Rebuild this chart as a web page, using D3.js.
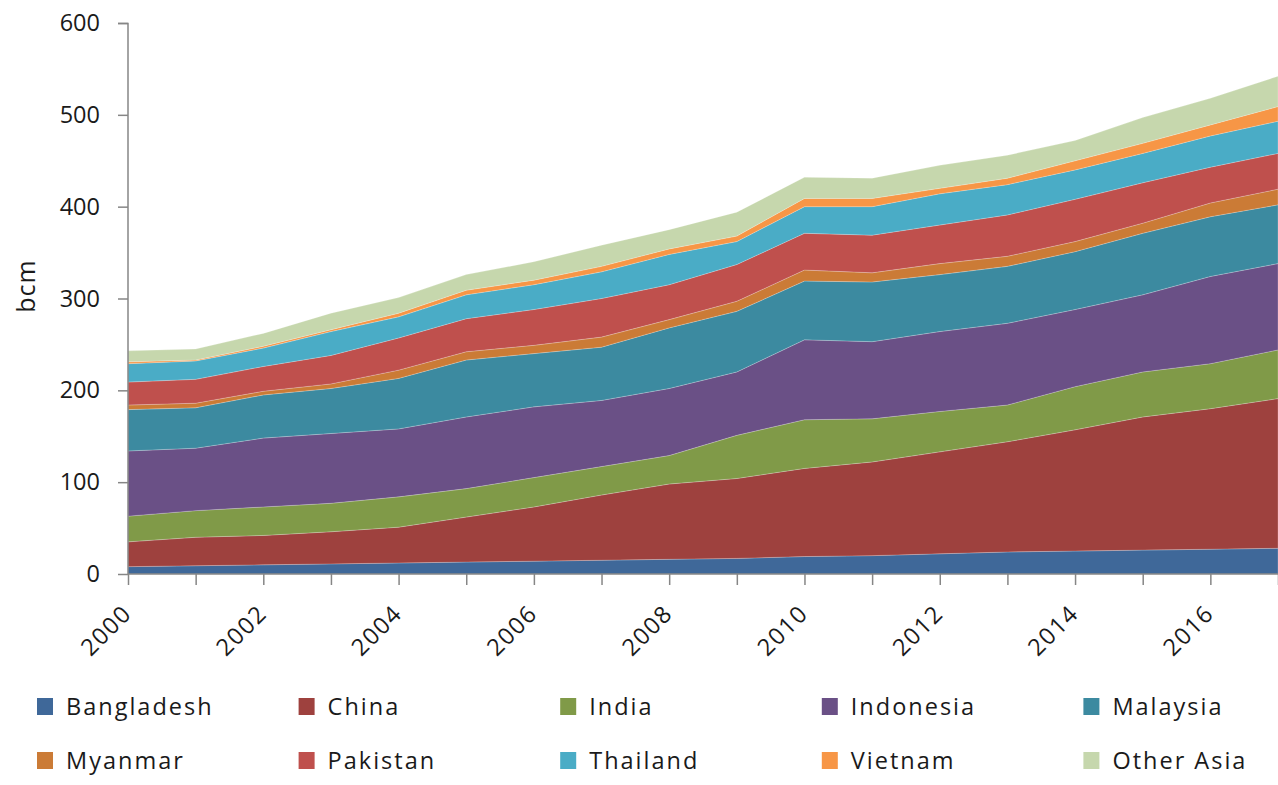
<!DOCTYPE html>
<html>
<head>
<meta charset="utf-8">
<script src="https://cdn.jsdelivr.net/npm/d3@7"></script>
<style>
  body { margin: 0; background: #fff; }
  text { font-family: "Open Sans", sans-serif; fill: #1a1a1a; }
</style>
</head>
<body>
<div id="chart"></div>
<script>
// values, bcm
var years = [2000, 2001, 2002, 2003, 2004, 2005, 2006, 2007, 2008, 2009, 2010, 2011, 2012, 2013, 2014, 2015, 2016, 2017];
var countries = ["Bangladesh", "China", "India", "Indonesia", "Malaysia", "Myanmar", "Pakistan", "Thailand", "Vietnam", "Other Asia"];
var colors = ["#3f6899", "#9e413e", "#809a48", "#6a5086", "#3c8aa0", "#cb7b36", "#bf504d", "#4aacc6", "#f79646", "#c6d7ad"];

var bangladesh = [8, 9, 10, 11, 12, 13, 14, 15, 16, 17, 19, 20, 22, 24, 25, 26, 27, 28];
var china      = [27, 31, 32, 35, 39, 49, 59, 71, 82, 87, 96, 102, 111, 120, 132, 145, 153, 163];
var india      = [28, 29, 31, 31, 33, 31, 32, 31, 31, 47, 53, 47, 44, 40, 47, 49, 49, 53];
var indonesia  = [71, 68, 75, 76, 74, 78, 77, 72, 73, 69, 87, 84, 87, 89, 84, 84, 95, 94];
var malaysia   = [45, 44, 47, 49, 55, 62, 58, 58, 66, 66, 64, 65, 62, 62, 63, 67, 65, 64];
var myanmar    = [5, 5, 4, 5, 9, 9, 9, 11, 9, 11, 12, 10, 12, 11, 11, 11, 15, 17];
var pakistan   = [25, 26, 27, 31, 35, 36, 39, 42, 38, 40, 40, 41, 42, 45, 46, 44, 39, 39];
var thailand   = [20, 20, 20, 26, 23, 26, 27, 29, 33, 25, 29, 31, 34, 33, 32, 32, 34, 35];
var vietnam    = [2, 1, 2, 2, 4, 5, 5, 6, 6, 6, 9, 9, 6, 7, 10, 11, 12, 16];
var otherAsia  = [12, 12, 14, 18, 17, 17, 20, 23, 21, 26, 23, 22, 25, 25, 22, 28, 29, 33];

var yTicks = [0, 100, 200, 300, 400, 500, 600];
var xTickYears = [2000, 2002, 2004, 2006, 2008, 2010, 2012, 2014, 2016];

var series = [bangladesh, china, india, indonesia, malaysia, myanmar, pakistan, thailand, vietnam, otherAsia];

// one row per year for d3.stack
var rows = years.map(function(y, i) {
    var r = {year: y};
    countries.forEach(function(c, j) { r[c] = series[j][i]; });
    return r;
});

var W = 1278, H = 785;
var margin = {top: 23, right: 0, bottom: 211, left: 128};
var width = W - margin.left - margin.right;
var height = H - margin.top - margin.bottom;

var svg = d3.select('#chart').append('svg')
    .attr('width', W)
    .attr('height', H);

var g = svg.append('g')
    .attr('transform', `translate(${margin.left},${margin.top})`);

var x = d3.scaleLinear().domain([2000, 2017]).range([0, width]);
var y = d3.scaleLinear().domain([0, 600]).range([height, 0]);

var stacked = d3.stack().keys(countries)(rows);

var area = d3.area()
    .x(d => x(d.data.year))
    .y0(d => y(d[0]))
    .y1(d => y(d[1]));

g.selectAll('.layer')
    .data(stacked)
    .enter()
    .append('path')
    .attr('class', 'layer')
    .attr('d', area)
    .attr('fill', (d, i) => colors[i])
    .attr('stroke', 'rgba(255,255,255,0.35)')
    .attr('stroke-width', 0.6);

// y axis
var yAxis = d3.axisLeft(y).tickValues(yTicks).tickSize(10).tickPadding(18);
var ya = g.append('g').attr('class', 'y axis').call(yAxis);
ya.select('.domain').attr('stroke', '#868686').attr('stroke-width', 1.5).attr('d', `M-10,0.5H0V${height}`);
ya.selectAll('.tick line').attr('stroke', '#868686').attr('stroke-width', 1.5);
ya.selectAll('.tick text')
    .style('font-family', '"Open Sans", sans-serif')
    .style('font-size', '23.5px')
    .attr('fill', '#1a1a1a');

// x axis
var xAxis = d3.axisBottom(x).tickValues(years).tickSize(11).tickFormat('');
var xa = g.append('g')
    .attr('class', 'x axis')
    .attr('transform', `translate(0,${height})`)
    .call(xAxis);
xa.select('.domain').attr('stroke', '#868686').attr('stroke-width', 1.5).attr('d', `M0,0H${width}`);
xa.selectAll('.tick line').attr('stroke', '#868686').attr('stroke-width', 1.5);

g.append('g')
    .selectAll('text')
    .data(xTickYears)
    .enter()
    .append('text')
    .attr('transform', d => `translate(${x(d) + 5},${height + 41}) rotate(-45)`)
    .attr('text-anchor', 'end')
    .style('font-size', '23.5px')
    .style('letter-spacing', '1.5px')
    .text(d => d);

// y label
svg.append('text')
    .attr('transform', `translate(35,286) rotate(-90)`)
    .attr('text-anchor', 'middle')
    .style('font-size', '25px')
    .style('letter-spacing', '1px')
    .text('bcm');

// legend, two rows of five
var legend = svg.append('g');
var item = legend.selectAll('.item')
    .data(countries)
    .enter()
    .append('g')
    .attr('class', 'item')
    .attr('transform', (d, i) => `translate(${37 + (i % 5) * 261.6},${i < 5 ? 698 : 752})`);

item.append('rect')
    .attr('width', 16)
    .attr('height', 17)
    .attr('fill', (d, i) => colors[i]);

item.append('text')
    .attr('x', 29)
    .attr('y', 17)
    .style('font-size', '23.5px')
    .style('letter-spacing', '2px')
    .text(d => d);
</script>
</body>
</html>
